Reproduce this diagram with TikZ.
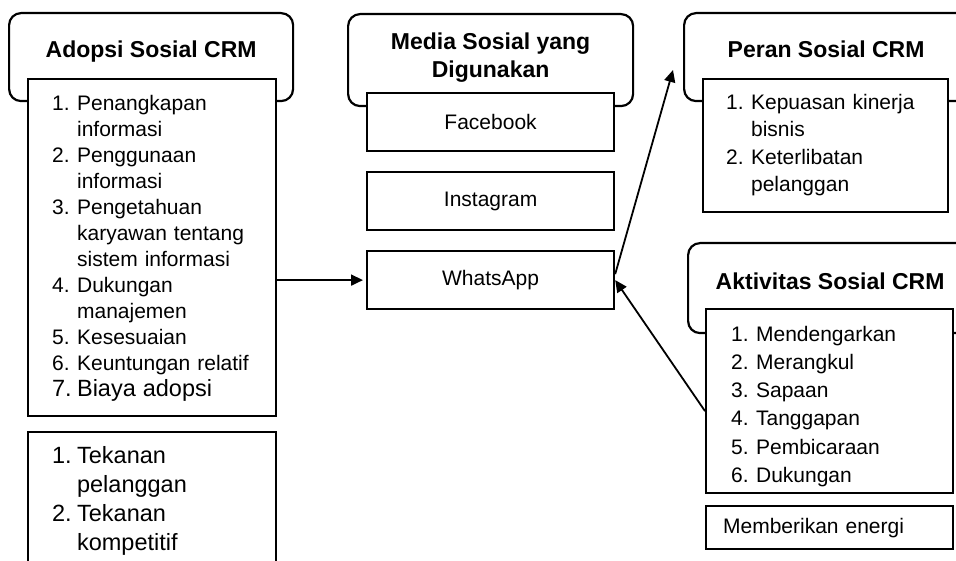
\documentclass[tikz,border=0pt]{standalone}
\usepackage{fontspec}
\setmainfont{Liberation Sans}
\usetikzlibrary{arrows.meta}

\newcommand{\nr}[1]{\makebox[25pt][l]{#1}}
\newcommand{\indnt}{\hspace*{25pt}}

\begin{document}
\begin{tikzpicture}[x=1pt, y=-1pt,
  hdr/.style={draw, rounded corners=12pt, line width=2.2pt, anchor=north west, inner xsep=0pt, inner ysep=0pt, align=center, font=\bfseries\fontsize{23}{28.4}\selectfont},
  lst/.style={draw, fill=white, line width=2.2pt, anchor=north west, inner xsep=0pt, inner ysep=0pt, align=left, font=\fontsize{21}{26}\selectfont},
  mbox/.style={draw, fill=white, line width=2.2pt, anchor=north west, minimum width=247pt, minimum height=58pt, font=\fontsize{21}{26}\selectfont},
  arr/.style={-{Triangle[length=12pt, width=11pt]}, line width=1.8pt}]
  \useasboundingbox (0,0) rectangle (956,561);
  \clip (0,0) rectangle (956,561);

  % headers
  \node [hdr, minimum width=284pt, text height=44.7pt, text depth=43.3pt] (adoptHdr) at (8,12) {Adopsi Sosial CRM};
  \node [hdr, minimum width=285pt, text height=63.7pt, text depth=28.3pt] (mediaHdr) at (347,13) {Media Sosial yang\\Digunakan};
  \node [hdr, minimum width=284pt, text height=44.7pt, text depth=43.3pt] (roleHdr) at (683,12) {Peran Sosial CRM};
  \node [hdr, minimum width=284pt, text height=46.3pt, text depth=43.7pt] (actHdr) at (687,242) {Aktivitas Sosial CRM};

  % lists
  \node [lst, minimum width=248pt, text width=200pt, text height=31pt, text depth=306pt] (adoptList) at (27,78)
    {\nr{1.}Penangkapan\\\indnt informasi\\\nr{2.}Penggunaan\\\indnt informasi\\\nr{3.}Pengetahuan\\\indnt karyawan tentang\\\indnt sistem informasi\\\nr{4.}Dukungan\\\indnt manajemen\\\nr{5.}Kesesuaian\\\nr{6.}Keuntungan relatif\\{\fontsize{23.5}{26}\selectfont\nr{7.}Biaya adopsi}};
  \node [lst, minimum width=248pt, text width=200pt, text height=31pt, text depth=118pt, font=\fontsize{23.5}{29}\selectfont] (pressBox) at (27,431)
    {\nr{1.}Tekanan\\\indnt pelanggan\\\nr{2.}Tekanan\\\indnt kompetitif};
  \node [lst, minimum width=245pt, text width=199pt, text height=30pt, text depth=103pt, font=\fontsize{21}{27.5}\selectfont] (roleList) at (702,78)
    {\nr{1.}Kepuasan kinerja\\\indnt bisnis\\\nr{2.}Keterlibatan\\\indnt pelanggan};
  \node [lst, minimum width=247pt, text width=197pt, text height=32pt, text depth=152pt, font=\fontsize{21}{28.3}\selectfont] (actList) at (705,308)
    {\nr{1.}Mendengarkan\\\nr{2.}Merangkul\\\nr{3.}Sapaan\\\nr{4.}Tanggapan\\\nr{5.}Pembicaraan\\\nr{6.}Dukungan};
  \node [lst, minimum width=247pt, text width=213pt, minimum height=43pt] (energyBox) at (705,505) {Memberikan energi};

  % media
  \node [mbox] (facebook) at (366,92) {Facebook};
  \node [mbox] (instagram) at (366,171) {Instagram};
  \node [mbox] (whatsapp) at (366,250) {WhatsApp};

  \coordinate (roleIn) at (673,70);
  \draw [arr] (adoptList.east |- whatsapp.west) -- ([xshift=-3pt]whatsapp.west);
  \draw [arr] ([yshift=6pt]whatsapp.east) -- (roleIn);
  \draw [arr] ([yshift=-10pt]actList.west) -- (whatsapp.east);
\end{tikzpicture}
\end{document}
